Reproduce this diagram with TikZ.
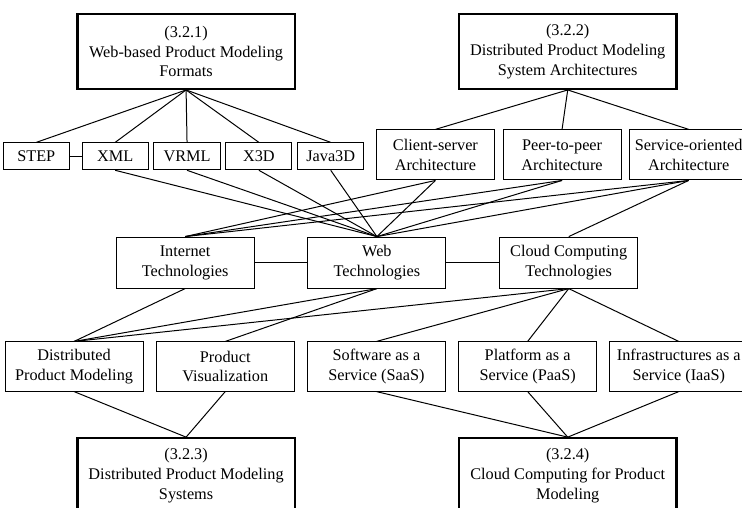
\documentclass[tikz,border=0pt]{standalone}
\usepackage{fontspec}
\setmainfont{Liberation Serif}
\usetikzlibrary{positioning}

\begin{document}
\begin{tikzpicture}[
      font=\fontsize{9.8}{12}\selectfont,
      line width=0.6pt,
      section/.style={draw,line width=1.4pt,minimum width=46mm,minimum height=15.8mm,align=center},
      fmt/.style={draw,minimum width=14mm,minimum height=5.7mm,inner sep=1pt},
      arch/.style={draw,minimum width=25mm,minimum height=10.6mm,align=center,inner sep=1pt},
      tech/.style={draw,minimum width=29.2mm,minimum height=10.8mm,align=center,inner sep=1pt},
      svc/.style={draw,minimum width=29.2mm,minimum height=10.4mm,align=center,inner sep=1pt}
    ]
      \useasboundingbox (0,0) rectangle (15.71,-10.75);
      \clip (0,0) rectangle (15.71,-10.75);

      % sections
      \node[section] (f321) at (3.94,-1.09) {(3.2.1)\\ Web-based Product Modeling\\ Formats};
      \node[section] (f322) at (12.02,-1.09) {(3.2.2)\\ Distributed Product Modeling\\ System Architectures};
      \node[section] (f323) at (3.94,-10.07) {(3.2.3)\\ Distributed Product Modeling\\ Systems};
      \node[section] (f324) at (12.02,-10.07) {(3.2.4)\\ Cloud Computing for Product\\ Modeling};

      % formats
      \node[fmt] (vrml) at (3.96,-3.31) {VRML};
      \node[fmt,left=1mm of vrml] (xml) {XML};
      \node[fmt,left=2.5mm of xml] (step) {STEP};
      \node[fmt,right=1mm of vrml] (x3d) {X3D};
      \node[fmt,right=1mm of x3d] (java) {Java3D};

      % architectures
      \node[arch] (p2p) at (11.90,-3.28) {Peer-to-peer\\ Architecture};
      \node[arch,left=1.6mm of p2p] (cs) {Client-server\\ Architecture};
      \node[arch,right=1.6mm of p2p] (soa) {Service-oriented\\ Architecture};

      % technologies
      \node[tech] (web) at (7.98,-5.56) {Web\\ Technologies};
      \node[tech,left=11.2mm of web] (inet) {Internet\\ Technologies};
      \node[tech,right=11.2mm of web] (cloud) {Cloud Computing\\ Technologies};

      % applications and services
      \node[svc] (saas) at (7.97,-7.76) {Software as a\\ Service (SaaS)};
      \node[svc,left=2.6mm of saas] (pv) {Product\\ Visualization};
      \node[svc,left=2.6mm of pv] (dpm) {Distributed\\ Product Modeling};
      \node[svc,right=2.6mm of saas] (paas) {Platform as a\\ Service (PaaS)};
      \node[svc,right=2.6mm of paas] (iaas) {Infrastructures as a\\ Service (IaaS)};

      \draw (f321.south) -- (step.north);
      \draw (f321.south) -- (xml.north);
      \draw (f321.south) -- (vrml.north);
      \draw (f321.south) -- (x3d.north);
      \draw (f321.south) -- (java.north);
      \draw (step) -- (xml);

      \draw (f322.south) -- (cs.north);
      \draw (f322.south) -- (p2p.north);
      \draw (f322.south) -- (soa.north);

      \draw (xml.south) -- (web.north);
      \draw (vrml.south) -- (web.north);
      \draw (x3d.south) -- (web.north);
      \draw (java.south) -- (web.north);
      \draw (cs.south) -- (inet.north);
      \draw (cs.south) -- (web.north);
      \draw (p2p.south) -- (inet.north);
      \draw (p2p.south) -- (web.north);
      \draw (soa.south) -- (inet.north);
      \draw (soa.south) -- (web.north);
      \draw (soa.south) -- (cloud.north);

      \draw (inet) -- (web);
      \draw (web) -- (cloud);

      \draw (inet.south) -- (dpm.north);
      \draw (web.south) -- (dpm.north);
      \draw (web.south) -- (pv.north);
      \draw (cloud.south) -- (dpm.north);
      \draw (cloud.south) -- (saas.north);
      \draw (cloud.south) -- (paas.north);
      \draw (cloud.south) -- (iaas.north);

      \draw (dpm.south) -- (f323.north);
      \draw (pv.south) -- (f323.north);
      \draw (saas.south) -- (f324.north);
      \draw (paas.south) -- (f324.north);
      \draw (iaas.south) -- (f324.north);
    \end{tikzpicture}
\end{document}
